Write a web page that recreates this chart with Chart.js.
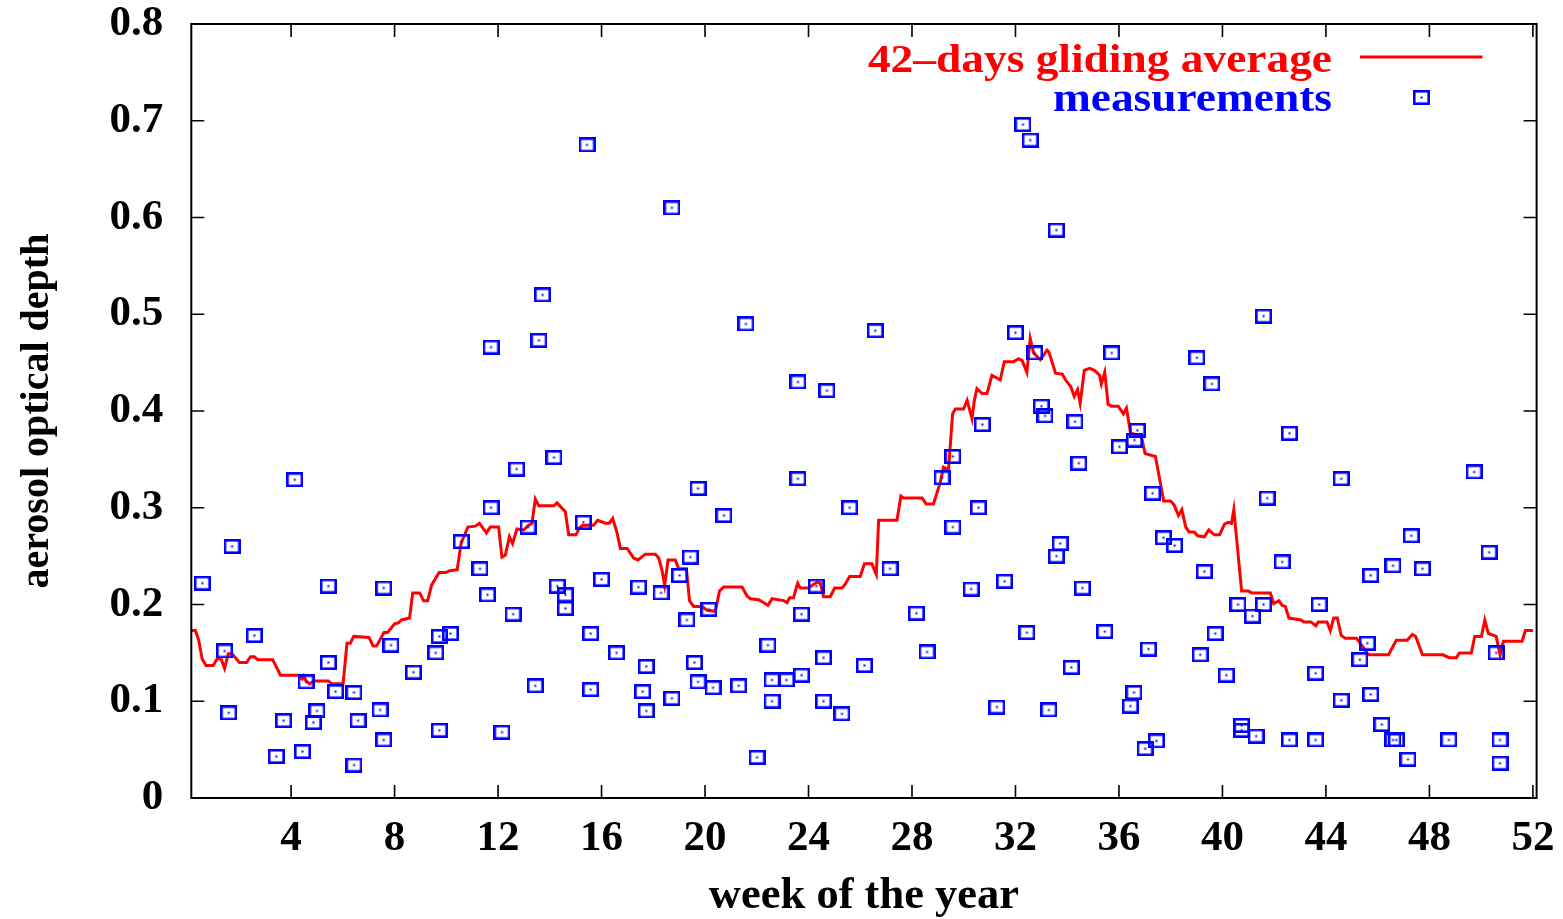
<!DOCTYPE html>
<html>
<head>
<meta charset="utf-8">
<script src="https://cdn.jsdelivr.net/npm/chart.js@4.4.0/dist/chart.umd.min.js"></script>
<style>
html,body{margin:0;padding:0;background:#ffffff;}
#wrap{width:1563px;height:919px;position:relative;}
</style>
</head>
<body>
<div id="wrap"><canvas id="c" width="1563" height="919"></canvas></div>
<script>
// ---- data (x in weeks of the year, y = aerosol optical depth) ----
const seriesNames = ['42\u2013days gliding average', 'measurements'];
const xTicks = [4, 8, 12, 16, 20, 24, 28, 32, 36, 40, 44, 48, 52];
const yTicks = [0, 0.1, 0.2, 0.3, 0.4, 0.5, 0.6, 0.7, 0.8];
const xMin = 1 / 7, xMax = 365 / 7;

const avgWeeks = [0.16,0.30,0.43,0.56,0.71,0.99,1.14,1.29,1.43,1.57,1.72,2.00,2.28,2.43,2.58,2.71,3.29,3.59,4.29,4.43,4.49,4.58,4.72,4.87,5.44,5.58,6.01,6.16,6.29,6.42,7.01,7.17,7.30,7.59,7.73,8.00,8.15,8.27,8.58,8.70,8.97,9.12,9.28,9.43,9.72,9.99,10.13,10.42,10.57,10.83,11.12,11.28,11.55,11.70,12.02,12.15,12.28,12.44,12.56,12.73,12.99,13.18,13.31,13.44,13.57,14.15,14.28,14.60,14.73,15.01,15.14,15.27,15.69,15.85,16.15,16.30,16.43,16.60,16.73,16.99,17.24,17.41,17.69,18.08,18.21,18.34,18.44,18.57,18.85,18.98,19.28,19.40,19.56,19.88,20.08,20.40,20.56,20.72,21.43,21.62,21.75,22.07,22.26,22.43,22.59,23.04,23.17,23.27,23.42,23.58,23.68,24.00,24.20,24.35,24.46,24.58,24.84,25.01,25.29,25.42,25.59,26.00,26.16,26.45,26.62,26.71,27.42,27.57,27.68,28.39,28.55,28.83,29.09,29.22,29.41,29.57,29.67,29.99,30.13,30.32,30.41,30.51,30.71,30.90,31.09,31.41,31.57,31.93,32.12,32.26,32.44,32.57,32.70,32.96,33.22,33.29,33.55,33.81,33.94,34.14,34.27,34.40,34.50,34.66,34.86,35.05,35.25,35.32,35.45,35.58,35.71,35.97,36.17,36.29,36.45,36.75,36.88,37.01,37.41,37.73,37.99,38.13,38.30,38.43,38.58,38.71,38.91,39.04,39.30,39.47,39.69,39.89,40.08,40.22,40.35,40.44,40.74,41.00,41.13,41.85,41.98,42.18,42.31,42.43,42.57,43.03,43.15,43.42,43.61,43.70,44.04,44.17,44.30,44.44,44.59,44.75,45.18,45.38,45.64,46.42,46.72,47.14,47.34,47.47,47.73,48.51,48.77,49.04,49.16,49.62,49.75,50.01,50.14,50.28,50.58,50.73,50.86,51.58,51.71,52.00];
const avgValues = [0.173,0.173,0.163,0.144,0.137,0.137,0.144,0.144,0.134,0.149,0.149,0.140,0.140,0.146,0.146,0.143,0.143,0.127,0.127,0.123,0.126,0.121,0.118,0.121,0.121,0.118,0.118,0.160,0.160,0.167,0.166,0.157,0.157,0.171,0.171,0.180,0.181,0.184,0.186,0.212,0.212,0.204,0.204,0.220,0.233,0.233,0.235,0.236,0.263,0.280,0.281,0.284,0.274,0.280,0.280,0.249,0.251,0.270,0.263,0.278,0.277,0.282,0.284,0.309,0.302,0.302,0.305,0.296,0.272,0.272,0.279,0.282,0.282,0.287,0.284,0.284,0.289,0.274,0.258,0.258,0.248,0.246,0.252,0.252,0.248,0.235,0.220,0.246,0.246,0.237,0.237,0.204,0.198,0.198,0.194,0.193,0.214,0.218,0.218,0.209,0.206,0.205,0.202,0.199,0.206,0.204,0.202,0.207,0.207,0.222,0.217,0.217,0.221,0.223,0.222,0.208,0.208,0.217,0.217,0.221,0.229,0.229,0.242,0.242,0.231,0.287,0.287,0.312,0.310,0.310,0.304,0.304,0.326,0.342,0.339,0.397,0.402,0.402,0.411,0.392,0.411,0.423,0.418,0.418,0.437,0.432,0.451,0.451,0.454,0.452,0.440,0.475,0.460,0.453,0.463,0.461,0.439,0.438,0.432,0.425,0.415,0.422,0.408,0.442,0.444,0.442,0.437,0.428,0.440,0.407,0.405,0.405,0.397,0.403,0.377,0.375,0.372,0.356,0.353,0.307,0.307,0.303,0.292,0.298,0.280,0.275,0.275,0.271,0.270,0.277,0.272,0.272,0.283,0.285,0.284,0.298,0.214,0.214,0.212,0.212,0.201,0.204,0.199,0.198,0.186,0.184,0.182,0.182,0.178,0.182,0.182,0.173,0.186,0.186,0.168,0.165,0.165,0.158,0.148,0.148,0.163,0.163,0.169,0.167,0.148,0.148,0.145,0.145,0.150,0.150,0.167,0.167,0.184,0.170,0.167,0.148,0.162,0.162,0.173,0.173];

const measWeeks = [0.57,1.43,1.59,1.72,2.58,3.43,3.71,4.14,4.44,4.58,4.86,5.00,5.44,5.44,5.72,6.43,6.43,6.59,7.44,7.58,7.58,7.86,8.73,9.59,9.73,9.73,10.16,10.58,11.30,11.59,11.73,11.73,12.15,12.58,12.72,13.16,13.44,13.58,13.72,14.16,14.29,14.60,14.60,15.30,15.44,15.58,15.58,16.00,16.58,17.43,17.59,17.73,17.73,18.30,18.72,18.72,19.02,19.30,19.43,19.59,19.73,19.73,20.15,20.31,20.73,21.30,21.58,22.01,22.43,22.59,22.59,23.15,23.59,23.59,23.73,23.73,24.30,24.58,24.58,24.71,25.29,25.59,26.16,26.58,27.15,28.17,28.58,29.16,29.58,29.58,30.29,30.57,30.72,31.28,31.58,32.00,32.29,32.44,32.57,32.74,33.00,33.14,33.29,33.58,33.58,33.73,34.16,34.30,34.45,34.59,35.45,35.72,36.02,36.44,36.58,36.60,36.71,37.01,37.14,37.30,37.45,37.72,38.15,39.01,39.14,39.30,39.59,39.72,40.15,40.60,40.74,40.74,41.16,41.30,41.59,41.59,41.73,42.31,42.59,42.59,43.60,43.60,43.74,44.59,44.59,45.31,45.60,45.73,45.73,46.16,46.59,46.59,46.72,47.17,47.30,47.73,48.75,49.73,50.31,50.58,50.73,50.73];
const measValues = [0.222,0.152,0.088,0.260,0.168,0.043,0.080,0.329,0.048,0.120,0.078,0.090,0.219,0.140,0.110,0.109,0.034,0.080,0.091,0.217,0.060,0.158,0.130,0.150,0.070,0.167,0.170,0.265,0.237,0.210,0.300,0.466,0.068,0.190,0.340,0.280,0.116,0.473,0.520,0.352,0.219,0.210,0.196,0.285,0.675,0.170,0.112,0.226,0.150,0.218,0.110,0.136,0.090,0.212,0.610,0.103,0.230,0.184,0.249,0.140,0.320,0.120,0.195,0.114,0.292,0.116,0.490,0.042,0.158,0.122,0.100,0.122,0.430,0.330,0.190,0.127,0.219,0.145,0.100,0.421,0.087,0.300,0.137,0.483,0.237,0.191,0.151,0.331,0.353,0.280,0.216,0.300,0.386,0.094,0.224,0.481,0.696,0.171,0.680,0.460,0.405,0.395,0.091,0.587,0.250,0.263,0.135,0.389,0.346,0.217,0.172,0.460,0.363,0.095,0.109,0.370,0.380,0.051,0.154,0.315,0.059,0.269,0.261,0.455,0.148,0.234,0.428,0.170,0.127,0.200,0.075,0.070,0.188,0.064,0.498,0.200,0.310,0.244,0.377,0.060,0.129,0.060,0.200,0.330,0.101,0.143,0.160,0.230,0.107,0.076,0.240,0.060,0.060,0.040,0.271,0.237,0.060,0.337,0.254,0.150,0.060,0.036];

// ---- styling ----
const RED = '#ff0000', BLUE = '#0000ff';
const FAMILY = '"Liberation Serif", "Times New Roman", Times, serif';

function makeMarker() {
  const c = document.createElement('canvas');
  c.width = 17; c.height = 15;
  const g = c.getContext('2d');
  g.strokeStyle = BLUE; g.lineWidth = 2.6;
  g.strokeRect(1.3, 1.3, 14.4, 12.4);
  g.fillStyle = BLUE;
  g.fillRect(7.5, 6.5, 2, 2);
  return c;
}
const marker = makeMarker();

const framePlugin = {
  id: 'gnuplotFrame',
  afterDraw(chart) {
    const {ctx, chartArea: a, scales} = chart;
    ctx.save();
    ctx.strokeStyle = '#000';
    ctx.lineWidth = 1.6;
    const tl = 13;
    ctx.beginPath();
    xTicks.forEach(v => {
      const px = scales.x.getPixelForValue(v);
      ctx.moveTo(px, a.bottom); ctx.lineTo(px, a.bottom - tl);
      ctx.moveTo(px, a.top); ctx.lineTo(px, a.top + tl);
    });
    yTicks.forEach(v => {
      const py = scales.y.getPixelForValue(v);
      ctx.moveTo(a.left, py); ctx.lineTo(a.left + tl, py);
      ctx.moveTo(a.right, py); ctx.lineTo(a.right - tl, py);
    });
    ctx.stroke();
    ctx.lineWidth = 2;
    ctx.strokeRect(a.left, a.top, a.right - a.left, a.bottom - a.top);

    // legend (gnuplot style: right-aligned text, sample to the right)
    const ds = chart.data.datasets;
    ctx.font = 'bold 40px ' + FAMILY;
    ctx.textAlign = 'right';
    ctx.textBaseline = 'alphabetic';
    const textRight = 1332;
    const rows = [{y: 57, base: 71.5}, {y: 97.7, base: 110.5}];
    ds.forEach((d, i) => {
      ctx.save();
      ctx.translate(textRight, rows[i].base);
      ctx.scale(1.135, 1);
      ctx.fillStyle = i === 0 ? RED : BLUE;
      ctx.fillText(d.label, 0, 0);
      ctx.restore();
    });
    ctx.strokeStyle = RED; ctx.lineWidth = 3;
    ctx.beginPath(); ctx.moveTo(1360, rows[0].y); ctx.lineTo(1482.5, rows[0].y); ctx.stroke();
    ctx.drawImage(marker, Math.round(1421.5 - marker.width / 2), Math.round(rows[1].y - marker.height / 2));
    ctx.restore();
  }
};

const tickFont = {family: FAMILY, size: 43, weight: 'bold'};

new Chart(document.getElementById('c'), {
  type: 'line',
  data: {
    datasets: [
      {
        label: seriesNames[0],
        data: avgWeeks.map((w, i) => ({x: w, y: avgValues[i]})),
        borderColor: RED,
        backgroundColor: RED,
        borderWidth: 3,
        pointRadius: 0,
        tension: 0,
        fill: false,
        order: 2
      },
      {
        label: seriesNames[1],
        data: measWeeks.map((w, i) => ({x: w, y: measValues[i]})),
        showLine: false,
        borderColor: BLUE,
        backgroundColor: BLUE,
        pointStyle: marker,
        pointRadius: 8,
        pointHoverRadius: 8,
        order: 1
      }
    ]
  },
  options: {
    responsive: false,
    animation: false,
    devicePixelRatio: 1,
    layout: {padding: {top: 24, right: 26.4, bottom: 0, left: 0}},
    plugins: {legend: {display: false}, tooltip: {enabled: false}},
    events: [],
    scales: {
      x: {
        type: 'linear',
        min: xMin,
        max: xMax,
        afterBuildTicks: s => { s.ticks = xTicks.map(v => ({value: v})); },
        ticks: {font: tickFont, color: '#000', padding: 15, maxRotation: 0, autoSkip: false,
                callback: v => String(v)},
        grid: {display: false, drawTicks: false, drawOnChartArea: false},
        border: {display: false},
        title: {display: true, text: 'week of the year', color: '#000',
                font: {family: FAMILY, size: 44.5, weight: 'bold', lineHeight: 1},
                padding: {top: 0, bottom: 0.5}},
        afterFit: s => { s.height = 121; s.paddingLeft = 0; s.paddingRight = 0; }
      },
      y: {
        type: 'linear',
        min: 0,
        max: 0.8,
        afterBuildTicks: s => { s.ticks = yTicks.map(v => ({value: v})); },
        ticks: {font: tickFont, color: '#000', padding: 28,
                callback: v => (v === 0 ? '0' : Number(v).toFixed(1))},
        grid: {display: false, drawTicks: false, drawOnChartArea: false},
        border: {display: false},
        title: {display: true, text: 'aerosol optical depth', color: '#000',
                font: {family: FAMILY, size: 40, weight: 'bold', lineHeight: 1},
                padding: {top: 17.8, bottom: 0}},
        afterFit: s => { s.width = 191.3; s.paddingTop = 0; s.paddingBottom = 0; }
      }
    }
  },
  plugins: [framePlugin]
});
</script>
</body>
</html>
